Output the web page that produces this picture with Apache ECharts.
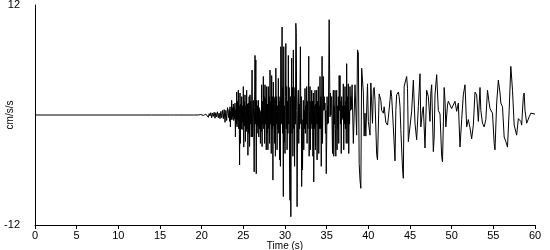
<!DOCTYPE html>
<html>
<head>
<meta charset="utf-8">
<script src="https://cdn.jsdelivr.net/npm/echarts@6/dist/echarts.min.js"></script>
<style>html,body{margin:0;padding:0;background:#fff}#c{width:550px;height:250px}</style>
</head>
<body>
<div id="c"></div>
<script>
const xTicks = [0, 5, 10, 15, 20, 25, 30, 35, 40, 45, 50, 55, 60];
const yTickLabels = [-12, 12];

// Pre-event and onset noise (irregular sample times, s)
const quietTimes = [
 0, 9.1, 9.2, 9.3, 14.0, 14.1, 14.2, 16.3, 16.4, 16.5, 16.6, 17.2, 17.3, 17.4, 19.0, 19.6,
 19.7, 19.8, 19.9, 20.0, 20.1, 20.2, 20.3, 20.4, 20.5, 20.6, 20.7, 20.8, 20.9, 21.0, 21.1, 21.2,
 21.3, 21.4, 21.5, 21.6, 21.7, 21.8, 21.9, 22.0, 22.1, 22.2, 22.3, 22.4, 22.5, 22.6, 22.7, 22.8,
 22.9, 23.0, 23.1
];
const quietAccel = [
 0, 0, 0.12, 0, 0, 0.08, 0, 0, -0.12, 0.08, 0, 0, -0.08, 0, 0, 0,
 0.1, -0.1, 0.05, -0.15, 0.1, -0.05, 0.15, -0.2, 0.1, -0.1, 0.2, -0.25, 0.15, -0.1, 0.25, -0.3,
 0.2, -0.15, 0.3, -0.35, 0.25, -0.2, 0.35, -0.3, 0.2, -0.4, 0.4, -0.3, 0.5, -0.4, 0.6, -0.8,
 0.5, -0.6, 0.8
];

// Strong-motion part, sampled every 0.05 s from 23.2 s
const strongStart = 23.2;
const strongStep = 0.05;
const strongAccel = [
 1.0, -0.3, 0.6, -0.7,   0.9, -1.3, 0.4, -0.5,   1.6, -0.5, 0.8, -0.2,   1.2, -0.6, 0.9, -0.4,
 1.3, -2.4, 0.6, -1.0,   2.5, -1.3, 1.5, -0.6,   2.7, -1.5, 1.0, -5.45,  2.4, -3.1, 1.2, -1.5,
 2.0, -1.6, 1.0, -0.8,   3.1, -3.5, 1.5, -1.2,   2.2, -2.9, 1.0, -1.8,   2.7, -1.5, 1.2, -4.4,
 1.3, -2.0, 2.0, -3.45,  2.2, -1.0, 1.5, -2.4,   1.0, 4.9, -2.4, 0.5,    1.6, -1.5, -6.2, 0.8,
 6.5, -1.0, 6.0, -6.4,   1.6, -2.0, 1.0, -1.2,   1.6, -2.4, 0.8, -1.5,   0.5, -3.1, 0.3, -1.8,
 3.3, -3.45, 1.5, -1.0,  4.2, -1.5, 2.0, -3.1,   3.3, -1.0, 1.8, -3.8,   3.1, -2.0, 1.2, -3.8,
 3.1, -1.5, 2.0, -3.1,   4.9, -1.0, 1.5, -4.2,   4.3, -1.5, 2.0, -7.1,   3.6, -1.2, 1.8, -3.1,
 2.0, -4.5, 5.1, -1.0,   2.0, -3.8, 1.0, -1.5,   4.0, -2.0, 1.5, -4.9,   2.0, -5.6, 7.45, -1.0,
 2.0, 9.6, -2.0, 3.0,    -8.9, 7.45, -3.0, 1.0,  -4.2, 2.0, 7.8, -1.5,   3.1, -3.8, 1.5, -2.0,
 6.5, -1.0, 3.0, -6.4,   -9.3, 2.0, -11.1, 0.5,  6.2, -2.0, 3.0, -4.5,   7.1, -1.5, 2.0, -5.6,
 3.0, -1.0, 10.0, 9.0,   0.5, -10.0, -2.0, 1.5,  2.7, -3.1, 1.2, -1.5,   3.0, 7.45, -1.0, 2.0,
 -7.8, -0.5, -6.0, -1.0, 1.6, -3.8, 0.5, -1.5,   2.9, -2.0, 1.0, -1.0,   3.1, -3.1, 1.5, -1.5,
 2.0, 6.4, -4.5, 0.5,    3.1, -3.8, 1.5, -1.0,   2.7, -1.5, 1.5, -4.5,   2.4, -7.3, 1.0, -1.5,
 2.7, -3.8, 1.2, -1.0,   2.7, -4.9, 1.5, -1.0,   3.1, -4.2, 1.0, -1.5,   4.2, -1.5, 2.0, -5.6,
 1.5, 6.4, -3.1, 1.0,    4.2, 0.5, 2.0, 0.6,     1.3, -2.0, 0.5, -6.4,   -3.0, 2.0, -1.0, 1.0,
 -0.9, 5.0, 10.4, 10.2,  -0.2, 2.4, 0.0, 1.5,    2.0, -1.0, -4.2, 0.5,   2.7, -4.5, 1.0, -1.0,
 2.7, -1.5, -4.5, 0.5,   2.7, -3.8, 1.0, -1.5,   2.0, -3.1, 4.3, 0.5,    4.3, -1.0, 1.5, -4.2,
 2.0, -0.5, 1.0, -0.3,   3.4, -3.8, 1.0, -1.0,   3.1, -1.5, 1.5, -3.1,   5.6, -1.0, 2.0, -3.1,
 3.4, -4.2, 0.5, -1.0,   3.1, 0.5, 2.0, 0.6
];

// Coda (irregular sample times, s)
const codaTimes = [
 38.05, 38.2, 38.4, 38.6, 38.7, 38.8, 38.9, 39.0, 39.1, 39.2, 39.4, 39.5, 39.6, 39.7, 39.9,
 40.0, 40.2, 40.3, 40.5, 40.6, 40.7, 40.8, 41.0, 41.1, 41.3, 41.4, 41.5, 41.6, 41.8, 41.9, 42.1,
 42.3, 42.4, 42.5, 42.6, 42.7, 42.8, 43.0, 43.2, 43.3, 43.4, 43.6, 43.7, 43.8, 43.9, 44.1, 44.2,
 44.3, 44.4, 44.6, 44.7, 44.8, 44.9, 45.0, 45.2, 45.4, 45.6, 45.8, 46.0, 46.2, 46.3, 46.5, 46.6,
 46.8, 47.0, 47.2, 47.4, 47.5, 47.6, 47.8, 47.9, 48.0, 48.2, 48.4, 48.6, 48.8, 48.9, 49.1, 49.2,
 49.3, 49.5, 49.6, 49.8, 50.0, 50.2, 50.4, 50.6, 50.8, 51.0, 51.2, 51.4, 51.6, 51.8, 52.0, 52.2,
 52.4, 52.6, 52.8, 53.0, 53.2, 53.4, 53.5, 53.7, 53.9, 54.1, 54.3, 54.5, 54.6, 54.7, 54.9, 55.1,
 55.2, 55.4, 55.6, 55.8, 55.9, 56.1, 56.3, 56.5, 56.7, 56.9, 57.1, 57.2, 57.3, 57.5, 57.6, 57.8,
 58.0, 58.1, 58.3, 58.4, 58.6, 58.7, 58.8, 59.0, 59.1, 59.3, 59.5, 59.7, 60.0
];
const codaAccel = [
 3.3, -3.1, 3.3, -2.2, 7.1, 6.8, -5.3, -7.1, -8.0, 5.1, 2.5, -2.3, 0.2, -2.3, 3.4,
 -0.7, -2.2, 3.5, -0.9, 2.7, 3.0, 1.6, -4.3, -4.9, 2.3, 2.2, 1.6, 0.5, 0.2, 0.9, -0.8,
 -1.1, -0.3, -0.5, 1.6, 2.7, 2.0, -1.3, -5.0, 0.5, 2.2, 2.5, 2.0, 0.9, -1.6, -5.8, -6.9,
 3.1, 3.5, 4.2, 2.9, -2.9, -2.7, -2.7, 0.4, 3.8, -0.9, -2.7, 0.9, 4.5, -1.3, 0.5, 0.9,
 -3.6, 2.7, 2.0, -0.7, 2.4, 3.3, -4.0, -2.4, 2.2, 4.4, 0.5, 0.1, -4.5, -5.1, 3.0, 1.6,
 -1.3, 1.1, 1.5, 1.6, 0.7, 0.9, 1.5, 0.4, 1.3, -3.5, -0.5, 2.2, 3.3, -1.3, -0.5, -1.4,
 -2.6, -1.1, 2.5, 2.2, -0.7, 3.0, 0.5, -0.9, -1.3, -0.5, 2.7, 1.3, 0.7, 0.5, 0.2, -3.1,
 -3.8, 1.3, 3.8, 2.4, 1.3, 0.9, -2.4, -2.9, -3.5, 0.5, 5.3, 5.5, 2.7, -1.1, -1.3, -2.2,
 -0.4, -0.2, -0.7, -1.1, 2.0, 2.4, 0.5, -0.9, -0.9, -0.2, 0.2, 0.1, 0.1
];

const points = []
  .concat(quietTimes.map((t, i) => [t, quietAccel[i]]))
  .concat(strongAccel.map((v, i) => [+(strongStart + i * strongStep).toFixed(3), v]))
  .concat(codaTimes.map((t, i) => [t, codaAccel[i]]));

const chart = echarts.init(document.getElementById('c'), null, {renderer: 'canvas'});
const font = 'Liberation Sans, Arial, sans-serif';
chart.setOption({
  animation: false,
  backgroundColor: '#fff',
  grid: {left: 35, right: 15, top: 5, bottom: 25, containLabel: false, outerBoundsMode: 'none'},
  xAxis: {
    type: 'value', min: xTicks[0], max: xTicks[xTicks.length - 1], interval: 5,
    name: 'Time (s)', nameLocation: 'middle', nameGap: 16, nameMoveOverlap: false,
    nameTextStyle: {color: '#000', fontFamily: font, fontSize: 10},
    axisLine: {onZero: false, lineStyle: {color: '#000', width: 1}},
    axisTick: {show: true, length: 4, inside: false, lineStyle: {color: '#000'}},
    axisLabel: {color: '#000', fontFamily: font, fontSize: 11, margin: 5},
    splitLine: {show: false}
  },
  yAxis: {
    type: 'value', min: yTickLabels[0], max: yTickLabels[1], interval: 12,
    name: 'cm/s/s', nameLocation: 'middle', nameGap: 20, nameRotate: 90, nameMoveOverlap: false,
    nameTextStyle: {color: '#000', fontFamily: font, fontSize: 10},
    axisLine: {show: true, onZero: false, lineStyle: {color: '#000', width: 1}},
    axisTick: {show: false},
    axisLabel: {color: '#000', fontFamily: font, fontSize: 11, margin: 15,
      formatter: v => (yTickLabels.indexOf(v) >= 0 ? String(v) : '')},
    splitLine: {show: false}
  },
  series: [{
    type: 'line', data: points, showSymbol: false, symbol: 'none',
    lineStyle: {color: '#000', width: 1}, z: 2
  }]
});
</script>
</body>
</html>
